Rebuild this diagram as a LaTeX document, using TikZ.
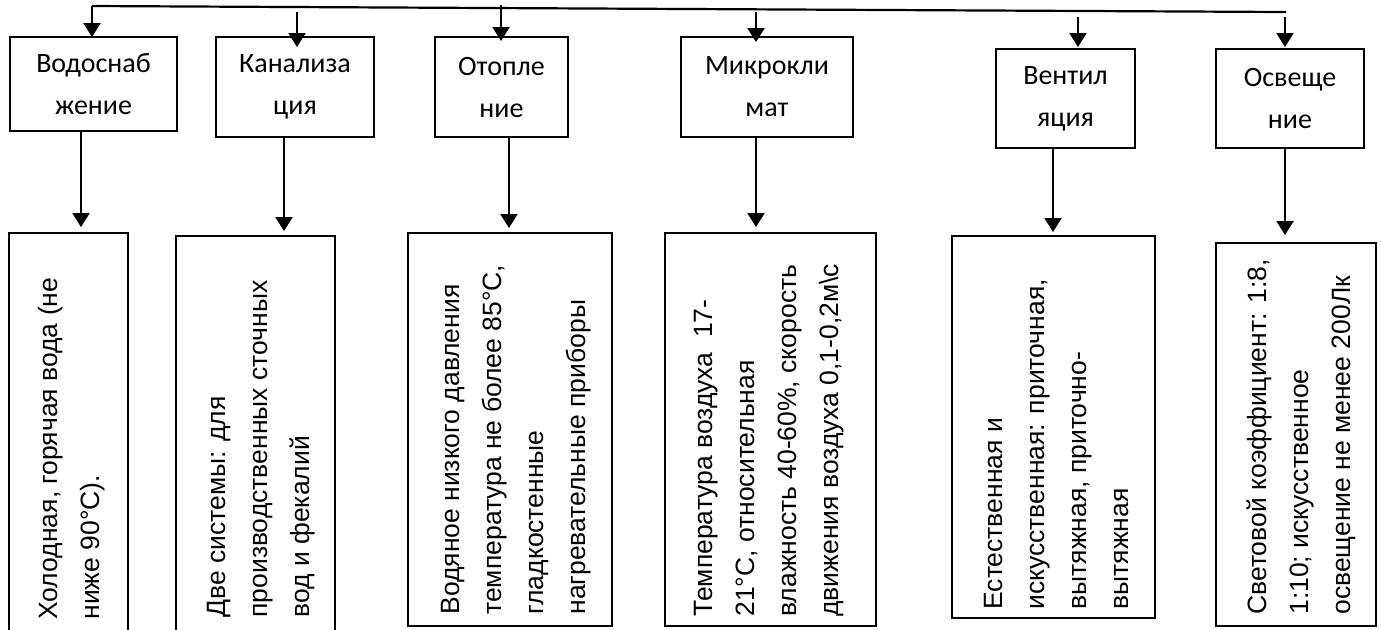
\documentclass[tikz,border=0pt]{standalone}
\usepackage{fontspec}
\setmainfont{Liberation Sans}
\newfontfamily\headfont{Carlito}
\usetikzlibrary{arrows.meta}

\begin{document}
\begin{tikzpicture}[x=0.5pt,y=-0.5pt,
  frame/.style={draw, line width=1pt, inner sep=0pt, outer sep=0pt},
  headbox/.style={frame, font=\headfont\fontsize{14}{21}\selectfont, align=center},
  % anchored at the baseline of the last line, which lies rightmost
  body/.style={rotate=90, anchor=base west, align=left, inner sep=0pt,
               font=\fontsize{13.25}{21}\selectfont},
  rule/.style={line width=1.1pt},
  link/.style={line width=1.1pt, -{Triangle[width=8.5pt,length=7pt]}},
]
\fill[white] (0,0) rectangle (1381,629);
\useasboundingbox (0,0) rectangle (1381,629);
\clip (0,0) rectangle (1381,629);

% upper row: the six services
\node[headbox, minimum width=83.5pt, minimum height=47pt]   (t1) at (93.5,84)   {Водоснаб\\жение};
\node[headbox, minimum width=79pt,   minimum height=50pt]   (t2) at (295,87)    {Канализа\\ция};
\node[headbox, minimum width=66.5pt, minimum height=50pt]   (t3) at (501.5,87)  {Отопле\\ние};
\node[headbox, minimum width=86pt,   minimum height=50pt]   (t4) at (767,87)    {Микрокли\\мат};
\node[headbox, minimum width=69.5pt, minimum height=49.5pt] (t5) at (1065.5,98.5) {Вентил\\яция};
\node[headbox, minimum width=74pt,   minimum height=49.5pt] (t6) at (1290,98.5)  {Освеще\\ние};

% lower row: frames for the descriptions
\node[frame, anchor=north west, minimum width=59.5pt,  minimum height=205pt] (b1) at (9,233)    {};
\node[frame, anchor=north west, minimum width=79.5pt,  minimum height=205pt] (b2) at (176,236)  {};
\node[frame, anchor=north west, minimum width=102pt,   minimum height=196.5pt] (b3) at (408,233) {};
\node[frame, anchor=north west, minimum width=105.5pt, minimum height=196.5pt] (b4) at (665,233) {};
\node[frame, anchor=north west, minimum width=101.5pt, minimum height=191pt] (b5) at (952,236)  {};
\node[frame, anchor=north west, minimum width=80pt,    minimum height=191.5pt] (b6) at (1216,243) {};

% descriptions, set vertically
\node[body] (r1) at (99,620)   {Холодная, горячая вода (не\\ниже 90°С).};
\node[body] (r2) at (309,618)  {Две системы: для\\производственных сточных\\вод и фекалий};
\node[body] (r3) at (585,615)  {Водяное низкого давления\\температура не более 85°С,\\гладкостенные\\нагревательные приборы};
\node[body] (r4) at (838,617)  {Температура воздуха\ \ 17-\\21°С, относительная\\влажность 40-60\%, скорость\\движения воздуха 0,1-0,2м\textbackslash с};
\node[body] (r5) at (1128,610) {Естественная и\\искусственная: приточная,\\вытяжная, приточно-\\вытяжная};
\node[body] (r6) at (1350,615) {Световой коэффициент: 1:8,\\1:10; искусственное\\освещение не менее 200Лк};

% common feed line along the top
\coordinate (L0) at (92,6);
\coordinate (L1) at (1286,12);
\coordinate (s2) at (297,12);
\coordinate (s3) at (501,5);
\coordinate (s4) at (756,12);
\coordinate (s5) at (1078,17);
\coordinate (s6) at (1285,17);
\draw[rule] (L0) -- (L1);

\draw[link] (L0) -- (L0 |- t1.north);
\draw[link, shorten >=-5pt] (s2) -- (s2 |- t2.north);
\draw[link, shorten >=-2pt] (s3) -- (s3 |- t3.north);
\draw[link, shorten >=-2.5pt] (s4) -- (s4 |- t4.north);
\draw[link, shorten >=1pt] (s5) -- (s5 |- t5.north);
\draw[link, shorten >=1pt] (s6) -- (s6 |- t6.north);

% arrows from each service down to its description
\coordinate (c1) at (81,0);
\coordinate (c2) at (284,0);
\coordinate (c3) at (509,0);
\coordinate (c4) at (756,0);
\coordinate (c5) at (1053,0);
\coordinate (c6) at (1285,0);
\draw[link, shorten >=3pt]   (t1.south -| c1) -- (b1.north -| c1);
\draw[link, shorten >=2.5pt] (t2.south -| c2) -- (b2.north -| c2);
\draw[link, shorten >=2.5pt] (t3.south -| c3) -- (b3.north -| c3);
\draw[link, shorten >=3pt]   (t4.south -| c4) -- (b4.north -| c4);
\draw[link, shorten >=2pt]   (t5.south -| c5) -- (b5.north -| c5);
\draw[link, shorten >=4pt]   (t6.south -| c6) -- (b6.north -| c6);
\end{tikzpicture}
\end{document}
